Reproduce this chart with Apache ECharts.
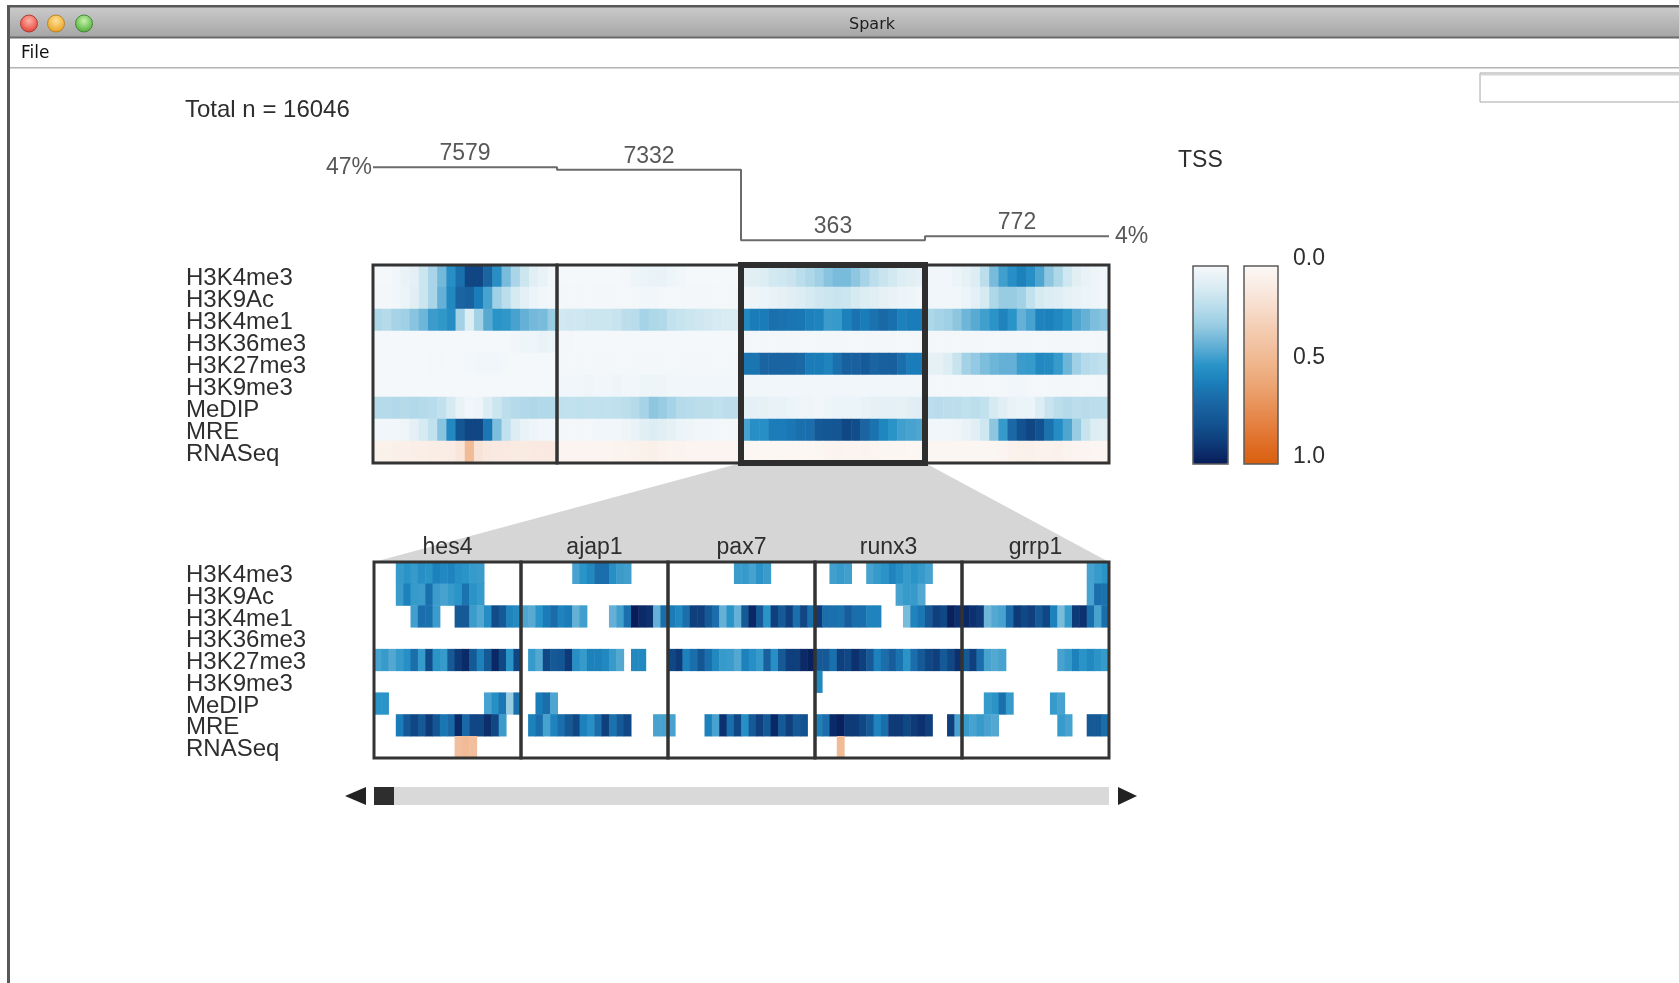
<!DOCTYPE html>
<html><head><meta charset="utf-8">
<script src="https://cdn.jsdelivr.net/npm/echarts@6/dist/echarts.min.js"></script>
<style>html,body{margin:0;padding:0;background:#fff;overflow:hidden}#c{width:1679px;height:983px}</style>
</head><body><div id="c"></div>
<script>
const _ = null;
// ---------------- data ----------------
const ROW_LABELS = ['H3K4me3','H3K9Ac','H3K4me1','H3K36me3','H3K27me3','H3K9me3','MeDIP','MRE','RNASeq'];
const GENES = ['hes4','ajap1','pax7','runx3','grrp1'];
const CLUSTER_COUNTS = [7579, 7332, 363, 772];
const EDGE_LABELS = ['47%', '4%'];
const TOTAL_N = 16046;
const LEGEND_TICKS = [0, 0.5, 1];

// TSS overview heatmap: 4 clusters x 20 bins per row
const T_H3K4ME3 = [
 0,0,.02,.05,.07,.15,.25,.37,.52,.65,.85,.85,.70,.52,.36,.25,.15,.08,.05,.02,
 0,0,0,0,0,0,0,.01,.03,.04,.05,.05,.03,.02,0,0,0,0,0,0,
 .07,.08,.10,.13,.14,.16,.20,.24,.28,.33,.36,.36,.32,.26,.20,.16,.13,.10,.08,.07,
 .02,.02,.02,.04,.06,.10,.20,.36,.46,.52,.58,.52,.44,.32,.24,.14,.08,.05,.03,.02];
const T_H3K9AC = [
 .01,.01,.02,.04,.08,.15,.25,.40,.55,.70,.72,.60,.45,.28,.20,.12,.07,.04,.02,.01,
 .01,.01,.01,.01,.01,.01,.01,.01,.01,.02,.02,.01,.01,.01,.01,.01,.01,.01,.01,.01,
 .02,.03,.04,.05,.06,.08,.10,.12,.14,.15,.16,.15,.12,.10,.08,.06,.05,.04,.03,.02,
 .02,.02,.02,.02,.04,.07,.12,.24,.30,.30,.27,.18,.12,.10,.09,.06,.05,.04,.03,.02];
const T_H3K4ME1 = [
 .24,.22,.26,.28,.33,.38,.47,.49,.53,.27,.10,.27,.42,.50,.49,.45,.40,.37,.36,.30,
 .13,.14,.14,.15,.15,.15,.17,.20,.21,.26,.24,.23,.18,.17,.15,.14,.13,.12,.11,.11,
 .55,.60,.60,.65,.64,.63,.62,.58,.57,.47,.48,.58,.64,.60,.64,.68,.65,.58,.60,.60,
 .24,.26,.28,.32,.38,.42,.46,.50,.57,.50,.40,.45,.57,.58,.55,.50,.44,.40,.35,.33];
const T_H3K36ME3 = [
 0,0,0,0,0,0,0,0,0,0,0,0,0,0,0,.02,.03,.03,.05,.04,
 .01,.01,0,0,0,0,0,0,0,0,0,0,0,0,0,0,0,0,0,0,
 .01,.01,.01,.01,.01,.01,.01,.01,.01,.01,.01,.01,.01,.01,.01,.01,.01,.01,.01,.01,
 .01,.01,.01,.01,.01,.01,.01,.01,.01,.01,.01,.01,.01,.01,.01,.01,.01,.01,.01,.01];
const T_H3K27ME3 = [
 0,0,0,0,0,0,.01,.01,0,0,.01,.02,.02,.02,.01,0,0,0,0,0,
 .01,.01,.01,.01,.01,.01,.01,.01,.01,.01,.01,.01,.01,.01,.01,.01,.01,.01,.01,.01,
 .63,.63,.70,.70,.70,.70,.68,.60,.60,.57,.65,.72,.72,.75,.70,.72,.73,.66,.60,.60,
 .06,.06,.10,.17,.27,.31,.35,.38,.40,.40,.47,.48,.55,.54,.48,.38,.28,.22,.20,.18];
const T_H3K9ME3 = [
 0,0,0,0,0,0,0,0,0,0,0,0,0,0,0,0,0,0,0,0,
 .02,.02,.02,.03,.02,.02,.03,.02,.02,.03,.03,.03,.02,.02,.02,.02,.02,.02,.02,.02,
 .02,.02,.02,.02,.02,.02,.02,.02,.02,.02,.02,.02,.02,.02,.02,.02,.02,.02,.02,.02,
 .01,.01,.01,.01,.01,.01,.01,.01,.01,.02,.02,.01,.01,.01,.01,.01,.01,.01,.01,.01];
const T_MEDIP = [
 .22,.22,.23,.22,.23,.22,.21,.18,.12,.05,.02,.03,.10,.15,.20,.22,.23,.24,.23,.23,
 .19,.18,.19,.18,.19,.18,.19,.20,.22,.26,.32,.30,.26,.22,.21,.20,.20,.19,.20,.20,
 .06,.07,.06,.05,.05,.04,.03,.03,.02,.03,.04,.04,.04,.05,.06,.07,.07,.06,.08,.09,
 .20,.21,.20,.20,.19,.20,.18,.12,.08,.05,.04,.04,.10,.16,.20,.22,.20,.21,.20,.20];
const T_MRE = [
 .02,.02,.02,.03,.07,.12,.18,.33,.55,.78,.85,.85,.62,.35,.18,.10,.05,.03,.02,.02,
 .01,.01,.01,.01,.02,.02,.02,.03,.05,.08,.10,.08,.06,.04,.03,.02,.02,.01,.01,.01,
 .45,.52,.52,.60,.60,.62,.65,.66,.76,.77,.78,.84,.82,.70,.64,.56,.50,.46,.45,.44,
 .02,.02,.02,.03,.05,.08,.14,.32,.48,.68,.80,.85,.80,.64,.53,.44,.30,.17,.10,.08];
const T_RNASEQ = [
 .06,.06,.07,.07,.08,.08,.09,.09,.10,.15,.45,.16,.13,.12,.12,.11,.11,.12,.12,.12,
 .03,.03,.03,.03,.03,.03,.04,.04,.05,.06,.07,.05,.04,.04,.03,.03,.03,.03,.03,.03,
 .01,.01,.01,.01,.01,.01,.01,.01,.02,.03,.04,.03,.03,.04,.03,.02,.02,.02,.01,.01,
 .02,.02,.02,.02,.02,.02,.02,.02,.03,.05,.06,.06,.05,.05,.06,.04,.03,.03,.02,.02];

// gene detail heatmap: 5 genes x 20 bins per row (null = no signal)
const B_H3K4ME3 = [
 _,_,_,.48,.50,.48,.52,.50,.58,.55,.57,.52,.50,.48,.47,_,_,_,_,_,
 _,_,_,_,_,_,_,.45,.50,.55,.66,.66,.52,.47,.46,_,_,_,_,_,
 _,_,_,_,_,_,_,_,_,.47,.48,.45,.50,.47,_,_,_,_,_,_,
 _,_,.46,.48,.46,_,_,.45,.48,.50,.57,.52,.48,.50,.48,.45,_,_,_,_,
 _,_,_,_,_,_,_,_,_,_,_,_,_,_,_,_,_,.45,.48,.50];
const B_H3K9AC = [
 _,_,_,.47,.58,.48,.47,.65,.47,.45,.48,.50,.64,.50,.48,_,_,_,_,_,
 _,_,_,_,_,_,_,_,_,_,_,_,_,_,_,_,_,_,_,_,
 _,_,_,_,_,_,_,_,_,_,_,_,_,_,_,_,_,_,_,_,
 _,_,_,_,_,_,_,_,_,_,_,.45,.48,.48,.43,_,_,_,_,_,
 _,_,_,_,_,_,_,_,_,_,_,_,_,_,_,_,_,.45,.66,.64];
const B_H3K4ME1 = [
 _,_,_,_,_,.46,.66,.65,.47,_,_,.76,.76,.47,.43,.53,.83,.76,.57,.54,
 .44,.42,.50,.60,.67,.57,.60,.40,.46,_,_,_,.40,.46,.65,1.0,.95,.93,.40,.66,
 .60,.55,.66,.88,.88,.76,.66,.40,.50,.40,.76,.96,.76,.50,.88,.76,.88,.66,.85,.65,
 .90,.66,.65,.64,.74,.66,.66,.57,.57,_,_,_,.36,.57,.62,.76,.88,.84,.98,.93,
 .96,.93,.90,.38,.43,.45,.67,.90,.84,.88,.76,.85,.58,.36,.48,.90,.93,.66,.45,.66];
const B_H3K36ME3 = [
 _,_,_,_,_,_,_,_,_,_,_,_,_,_,_,_,_,_,_,_,
 _,_,_,_,_,_,_,_,_,_,_,_,_,_,_,_,_,_,_,_,
 _,_,_,_,_,_,_,_,_,_,_,_,_,_,_,_,_,_,_,_,
 _,_,_,_,_,_,_,_,_,_,_,_,_,_,_,_,_,_,_,_,
 _,_,_,_,_,_,_,_,_,_,_,_,_,_,_,_,_,_,_,_];
const B_H3K27ME3 = [
 .45,.48,.43,.48,.52,.66,.48,.83,.50,.48,.76,.90,.95,.76,.58,.76,.96,.84,.50,.85,
 _,.48,.43,.84,.76,.78,.90,.52,.48,.58,.58,.55,.48,.43,_,.55,.55,_,_,_,
 .84,.90,.58,.66,.78,.66,.55,.48,.47,.43,.58,.52,.48,.72,.52,.76,.88,.88,.95,.98,
 .76,.76,.65,.88,.84,.93,.88,.76,.58,.66,.74,.64,.50,.66,.76,.84,.88,.76,.84,.93,
 .76,.88,.66,.45,.43,.45,_,_,_,_,_,_,_,.45,.48,.58,.50,.55,.50,.48];
const B_H3K9ME3 = [
 _,_,_,_,_,_,_,_,_,_,_,_,_,_,_,_,_,_,_,_,
 _,_,_,_,_,_,_,_,_,_,_,_,_,_,_,_,_,_,_,_,
 _,_,_,_,_,_,_,_,_,_,_,_,_,_,_,_,_,_,_,_,
 .55,_,_,_,_,_,_,_,_,_,_,_,_,_,_,_,_,_,_,_,
 _,_,_,_,_,_,_,_,_,_,_,_,_,_,_,_,_,_,_,_];
const B_MEDIP = [
 .50,.50,_,_,_,_,_,_,_,_,_,_,_,_,_,.45,.52,.62,.30,.65,
 _,_,.60,.66,.44,_,_,_,_,_,_,_,_,_,_,_,_,_,_,_,
 _,_,_,_,_,_,_,_,_,_,_,_,_,_,_,_,_,_,_,_,
 _,_,_,_,_,_,_,_,_,_,_,_,_,_,_,_,_,_,_,_,
 _,_,_,.48,.50,.65,.48,_,_,_,_,_,.48,.45,_,_,_,_,_,_];
const B_MRE = [
 _,_,_,.60,.76,.85,.76,.90,.78,.62,.68,.95,.68,.85,.85,.94,.85,.47,_,_,
 _,.58,.66,.45,.57,.66,.76,.84,.58,.52,.66,.88,.64,.76,.84,_,_,_,.45,.45,
 .45,_,_,_,_,.58,.45,.93,.66,.84,.52,.76,.88,.76,.96,.76,.88,.76,.80,_,
 .58,.66,.95,.98,.90,.90,.84,.76,.57,.66,.90,.90,.84,.90,.93,.88,_,_,.88,.45,
 .48,.45,.48,.45,.43,_,_,_,_,_,_,_,_,.48,.45,_,_,.76,.76,.66];
const B_RNASEQ = [
 _,_,_,_,_,_,_,_,_,_,_,.42,.45,.42,_,_,_,_,_,_,
 _,_,_,_,_,_,_,_,_,_,_,_,_,_,_,_,_,_,_,_,
 _,_,_,_,_,_,_,_,_,_,_,_,_,_,_,_,_,_,_,_,
 _,_,_,.45,_,_,_,_,_,_,_,_,_,_,_,_,_,_,_,_,
 _,_,_,_,_,_,_,_,_,_,_,_,_,_,_,_,_,_,_,_];

const BLUE_RAMP = ['#f5f8fa','#dcedf4','#bcdeec','#98cce3','#64b0d6','#2a94c8','#1a7cb8','#1a64a2','#125290','#0e3a78','#081c58'];
const ORANGE_RAMP = ['#fcf8f5','#faece4','#f7dece','#f4cfb6','#f2c2a2','#efb48a','#eca574','#e8935a','#e48040','#df6e26','#d95f0e'];

// ---------------- layout ----------------
const FONT = 'Liberation Sans, Arial, Helvetica, sans-serif';
const TXT = '#2e2e2e';
const L = {
  step: {left: 373, top: 163, width: 736, height: 81},
  top: {left: 373, top: 265, width: 736, height: 198},
  bot: {left: 374, top: 562, width: 735, height: 196},
  legB: {left: 1193, top: 266, width: 35, height: 198},
  legO: {left: 1244, top: 266, width: 34, height: 198},
  labelX: 186,
  selected: 2
};

const TOP_ROWS = [T_H3K4ME3,T_H3K9AC,T_H3K4ME1,T_H3K36ME3,T_H3K27ME3,T_H3K9ME3,T_MEDIP,T_MRE,T_RNASEQ];
const BOT_ROWS = [B_H3K4ME3,B_H3K9AC,B_H3K4ME1,B_H3K36ME3,B_H3K27ME3,B_H3K9ME3,B_MEDIP,B_MRE,B_RNASEQ];
const NT = T_H3K4ME3.length, NB = B_H3K4ME3.length;

function cells(rows, keep) {
  const out = [];
  rows.forEach((arr, r) => {
    if (!keep(r)) return;
    arr.forEach((v, c) => { if (v !== null) out.push([c, r, v]); });
  });
  return out;
}
const last = ROW_LABELS.length - 1;
const catIdx = n => Array.from({length: n}, (x, i) => String(i));

const stepData = CLUSTER_COUNTS.map((v, i) => [i, v]).concat([[CLUSTER_COUNTS.length, CLUSTER_COUNTS[CLUSTER_COUNTS.length - 1]]]);
const labelData = CLUSTER_COUNTS.map((v, i) => ({value: [i + 0.5, v], label: {position: 'top', distance: 2, formatter: String(v)}}));
labelData.push({value: [0, CLUSTER_COUNTS[0]], label: {position: 'left', distance: 1, formatter: EDGE_LABELS[0]}});
labelData.push({value: [CLUSTER_COUNTS.length, CLUSTER_COUNTS[CLUSTER_COUNTS.length - 1]], label: {position: 'right', distance: 6, formatter: EDGE_LABELS[1]}});

const hidden = {show: false};
const noAxis = {axisLine: hidden, axisTick: hidden, splitLine: hidden};

// ---------------- graphic (frame & decorations) ----------------
const W = 1679, H = 983;
const g = [];
// window chrome
g.push({type: 'rect', shape: {x: 7, y: 5, width: W, height: 33}, style: {fill: new echarts.graphic.LinearGradient(0, 0, 0, 1, [{offset: 0, color: '#cdcdcd'}, {offset: 1, color: '#a4a4a4'}])}, z: 1});
g.push({type: 'rect', shape: {x: 7, y: 5, width: W, height: 2.5}, style: {fill: '#585858'}, z: 2});
g.push({type: 'rect', shape: {x: 7, y: 36.5, width: W, height: 2}, style: {fill: '#6a6a6a'}, z: 2});
g.push({type: 'rect', shape: {x: 7, y: 5, width: 3, height: H}, style: {fill: '#585858'}, z: 2});
g.push({type: 'rect', shape: {x: 10, y: 67, width: W, height: 1.5}, style: {fill: '#b3b3b3'}, z: 2});
const lights = [
  {x: 29, c0: '#ffb3a8', c1: '#e2372c', s: '#a52a20'},
  {x: 56, c0: '#ffe29a', c1: '#e89a10', s: '#b37812'},
  {x: 84, c0: '#c6f2a8', c1: '#45a82f', s: '#2f7c22'}
];
lights.forEach(l => g.push({type: 'circle', shape: {cx: l.x, cy: 23.5, r: 8.5},
  style: {fill: new echarts.graphic.RadialGradient(0.5, 0.35, 0.7, [{offset: 0, color: l.c0}, {offset: 1, color: l.c1}]), stroke: l.s, lineWidth: 0.8}, z: 3}));
g.push({type: 'text', x: 872, y: 25, style: {text: 'Spark', font: '16px "DejaVu Sans", sans-serif', fill: '#1e1e1e', align: 'center', verticalAlign: 'middle'}, z: 3});
g.push({type: 'text', x: 21, y: 54, style: {text: 'File', font: '17px "DejaVu Sans", sans-serif', fill: '#111', align: 'left', verticalAlign: 'middle'}, z: 3});
g.push({type: 'rect', shape: {x: 1480, y: 73, width: 260, height: 29}, style: {fill: '#fff', stroke: '#a6a6a6', lineWidth: 1}, z: 3});
g.push({type: 'rect', shape: {x: 1481, y: 74, width: 260, height: 1.5}, style: {fill: '#d4d4d4'}, z: 3});
// texts
g.push({type: 'text', x: 185, y: 110, style: {text: 'Total n = ' + TOTAL_N, font: '24px ' + FONT, fill: TXT, verticalAlign: 'middle'}, z: 3});
g.push({type: 'text', x: 1178, y: 161, style: {text: 'TSS', font: '23px ' + FONT, fill: TXT, verticalAlign: 'middle'}, z: 3});
// zoom trapezoid
const pw = L.top.width / CLUSTER_COUNTS.length;
const selL = L.top.left + L.selected * pw, selR = selL + pw, topB = L.top.top + L.top.height;
g.push({type: 'polygon', shape: {points: [[selL, topB], [selR, topB], [L.bot.left + L.bot.width, L.bot.top], [L.bot.left, L.bot.top]]}, style: {fill: '#d6d6d6'}, z: -1});
// panel borders
for (let i = 0; i < CLUSTER_COUNTS.length; i++) {
  if (i === L.selected) continue;
  g.push({type: 'rect', shape: {x: L.top.left + i * pw, y: L.top.top, width: pw, height: L.top.height}, style: {fill: 'none', stroke: '#333', lineWidth: 3}, z: 50});
}
g.push({type: 'rect', shape: {x: selL, y: L.top.top, width: pw, height: L.top.height}, style: {fill: 'none', stroke: '#2e2e2e', lineWidth: 6}, z: 51});
const gw = L.bot.width / GENES.length;
for (let i = 0; i < GENES.length; i++) {
  g.push({type: 'rect', shape: {x: L.bot.left + i * gw, y: L.bot.top, width: gw, height: L.bot.height}, style: {fill: 'none', stroke: '#333', lineWidth: 3}, z: 50});
}
// legend bar borders
[L.legB, L.legO].forEach(b => g.push({type: 'rect', shape: {x: b.left, y: b.top, width: b.width, height: b.height}, style: {fill: 'none', stroke: '#5a5a5a', lineWidth: 1.5}, z: 50}));
// scroll bar
const sy = 787, sh = 18;
g.push({type: 'rect', shape: {x: L.bot.left, y: sy, width: L.bot.width, height: sh}, style: {fill: '#d9d9d9'}, z: 3});
g.push({type: 'rect', shape: {x: L.bot.left, y: sy, width: 20, height: sh}, style: {fill: '#2e2e2e'}, z: 4});
g.push({type: 'polygon', shape: {points: [[L.bot.left - 29, sy + sh / 2], [L.bot.left - 8, sy], [L.bot.left - 8, sy + sh]]}, style: {fill: '#222'}, z: 4});
const rx = L.bot.left + L.bot.width;
g.push({type: 'polygon', shape: {points: [[rx + 9, sy], [rx + 9, sy + sh], [rx + 28, sy + sh / 2]]}, style: {fill: '#222'}, z: 4});

// ---------------- chart ----------------
const chart = echarts.init(document.getElementById('c'), null, {renderer: 'canvas'});
const rowAxis = (gi, left) => ({gridIndex: gi, type: 'category', data: ROW_LABELS, inverse: true, ...noAxis,
  axisLabel: {interval: 0, align: 'left', margin: left - L.labelX, fontSize: 24, color: TXT, fontFamily: FONT,
    verticalAlign: 'top', lineHeight: 5}});
const heatBase = {type: 'heatmap', emphasis: {disabled: true}, itemStyle: {borderWidth: 0}, progressive: 0};

chart.setOption({
  animation: false,
  backgroundColor: '#ffffff',
  textStyle: {fontFamily: FONT},
  grid: [
    {left: L.step.left, top: L.step.top, width: L.step.width, height: L.step.height},
    {left: L.top.left, top: L.top.top, width: L.top.width, height: L.top.height},
    {left: L.bot.left, top: L.bot.top, width: L.bot.width, height: L.bot.height},
    {left: L.legO.left + L.legO.width, top: L.legO.top, width: 1, height: L.legO.height}
  ],
  xAxis: [
    {gridIndex: 0, type: 'value', min: 0, max: CLUSTER_COUNTS.length, show: false},
    {gridIndex: 1, type: 'category', data: catIdx(NT), show: false},
    {gridIndex: 2, type: 'category', data: catIdx(NB), show: false},
    {gridIndex: 2, type: 'category', data: GENES, position: 'top', ...noAxis,
      axisLabel: {interval: 0, margin: 3, fontSize: 23, color: TXT, fontFamily: FONT}},
    {gridIndex: 3, type: 'value', show: false}
  ],
  yAxis: [
    {gridIndex: 0, type: 'value', min: 0, max: 8000, show: false},
    rowAxis(1, L.top.left),
    rowAxis(2, L.bot.left),
    {gridIndex: 3, type: 'value', min: LEGEND_TICKS[0], max: LEGEND_TICKS[2], interval: LEGEND_TICKS[1] - LEGEND_TICKS[0], inverse: true, position: 'right', ...noAxis,
      axisLabel: {margin: 14, formatter: v => v.toFixed(1), fontSize: 23, color: TXT, fontFamily: FONT, verticalAlign: 'bottom', lineHeight: 14}}
  ],
  visualMap: [
    {type: 'continuous', seriesIndex: [2, 4], min: 0, max: 1, inRange: {color: BLUE_RAMP}, show: true, orient: 'vertical', inverse: true,
      left: L.legB.left, top: L.legB.top, itemWidth: L.legB.width, itemHeight: L.legB.height, padding: 0, text: null, calculable: false, hoverLink: false, showLabel: false},
    {type: 'continuous', seriesIndex: [3, 5], min: 0, max: 1, inRange: {color: ORANGE_RAMP}, show: true, orient: 'vertical', inverse: true,
      left: L.legO.left, top: L.legO.top, itemWidth: L.legO.width, itemHeight: L.legO.height, padding: 0, text: null, calculable: false, hoverLink: false, showLabel: false}
  ],
  series: [
    {type: 'line', xAxisIndex: 0, yAxisIndex: 0, step: 'end', data: stepData, symbol: 'none', silent: true,
      lineStyle: {color: '#6b6b6b', width: 2}},
    {type: 'scatter', xAxisIndex: 0, yAxisIndex: 0, data: labelData, symbolSize: 0, silent: true,
      itemStyle: {color: 'rgba(0,0,0,0)'},
      label: {show: true, fontSize: 23, color: TXT, fontFamily: FONT}},
    {...heatBase, xAxisIndex: 1, yAxisIndex: 1, data: cells(TOP_ROWS, r => r < last)},
    {...heatBase, xAxisIndex: 1, yAxisIndex: 1, data: cells(TOP_ROWS, r => r === last)},
    {...heatBase, xAxisIndex: 2, yAxisIndex: 2, data: cells(BOT_ROWS, r => r < last)},
    {...heatBase, xAxisIndex: 2, yAxisIndex: 2, data: cells(BOT_ROWS, r => r === last)}
  ],
  graphic: g
});
</script></body></html>
